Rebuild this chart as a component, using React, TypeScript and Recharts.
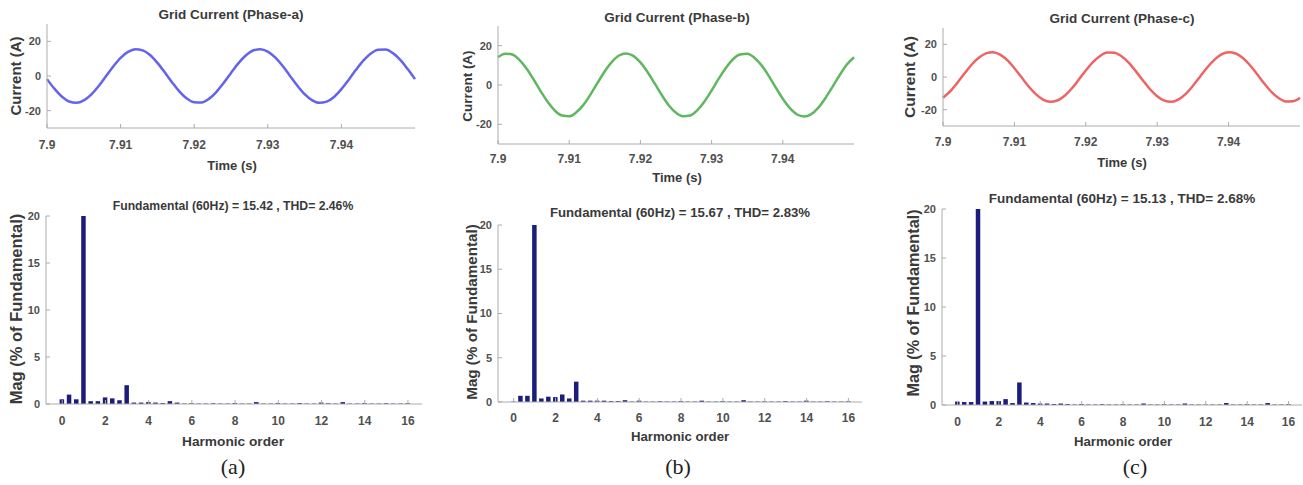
import React from 'react';
import { LineChart, Line, BarChart, Bar, XAxis, YAxis } from 'recharts';

// ---------- data: grid current waveforms (A) ----------
const timeSeconds = [
  7.900, 7.901, 7.902, 7.903, 7.904, 7.905, 7.906, 7.907, 7.908, 7.909,
  7.910, 7.911, 7.912, 7.913, 7.914, 7.915, 7.916, 7.917, 7.918, 7.919,
  7.920, 7.921, 7.922, 7.923, 7.924, 7.925, 7.926, 7.927, 7.928, 7.929,
  7.930, 7.931, 7.932, 7.933, 7.934, 7.935, 7.936, 7.937, 7.938, 7.939,
  7.940, 7.941, 7.942, 7.943, 7.944, 7.945, 7.946, 7.947, 7.948, 7.949,
  7.950,
];
const phaseACurrent = [
  -1.8, -7.3, -11.8, -14.7, -15.5, -14.1, -10.7, -5.9, -0.2, 5.5,
  10.5, 13.9, 15.5, 14.8, 12.1, 7.6, 2.1, -3.7, -9.0, -13.0,
  -15.2, -15.3, -13.2, -9.3, -4.0, 1.8, 7.3, 11.8, 14.7, 15.5,
  14.1, 10.7, 5.9, 0.2, -5.5, -10.5, -13.9, -15.5, -14.8, -12.1,
  -7.6, -2.1, 3.7, 9.0, 13.0, 15.2, 15.3, 13.2, 9.3, 4.0,
  -1.8,
];
const phaseBCurrent = [
  14.1, 15.9, 15.5, 12.8, 8.4, 2.8, -3.2, -8.7, -13.1, -15.5,
  -15.9, -13.9, -10.1, -4.8, 1.2, 7.0, 11.8, 15.0, 16.0, 14.8,
  11.5, 6.6, 0.8, -5.1, -10.4, -14.1, -15.9, -15.5, -12.8, -8.4,
  -2.8, 3.2, 8.7, 13.1, 15.5, 15.9, 13.9, 10.1, 4.8, -1.2,
  -7.0, -11.8, -15.0, -16.0, -14.8, -11.5, -6.6, -0.8, 5.1, 10.4,
  14.1,
];
const phaseCCurrent = [
  -12.7, -8.8, -3.6, 2.1, 7.5, 11.8, 14.5, 15.2, 13.7, 10.3,
  5.4, -0.2, -5.8, -10.5, -13.8, -15.2, -14.4, -11.6, -7.2, -1.7,
  4.0, 9.1, 12.9, 15.0, 14.9, 12.7, 8.8, 3.6, -2.1, -7.5,
  -11.8, -14.5, -15.2, -13.7, -10.3, -5.4, 0.2, 5.8, 10.5, 13.8,
  15.2, 14.4, 11.6, 7.2, 1.7, -4.0, -9.1, -12.9, -15.0, -14.9,
  -12.7,
];
const timeTicks = [7.9, 7.91, 7.92, 7.93, 7.94];
const currentTicks = [-20, 0, 20];

// ---------- data: harmonic spectra (% of fundamental) ----------
const harmonicOrders = [
  0, 0.333, 0.667, 1, 1.333, 1.667, 2, 2.333, 2.667, 3,
  3.333, 3.667, 4, 4.333, 4.667, 5, 5.333, 5.667, 6, 6.333,
  6.667, 7, 7.333, 7.667, 8, 8.333, 8.667, 9, 9.333, 9.667,
  10, 10.333, 10.667, 11, 11.333, 11.667, 12, 12.333, 12.667, 13,
  13.333, 13.667, 14, 14.333, 14.667, 15, 15.333, 15.667, 16,
];
const phaseAMag = [
  0.5, 1.0, 0.5, 100, 0.3, 0.3, 0.7, 0.6, 0.4, 2.0,
  0.15, 0.15, 0.2, 0.15, 0.1, 0.3, 0.15, 0.05, 0.08, 0.05,
  0.05, 0.08, 0.05, 0.05, 0.1, 0.05, 0.05, 0.2, 0.05, 0.05,
  0.1, 0.05, 0.05, 0.1, 0.05, 0.05, 0.15, 0.08, 0.05, 0.2,
  0.05, 0.05, 0.1, 0.05, 0.05, 0.08, 0.05, 0.05, 0.08,
];
const phaseBMag = [
  0.05, 0.7, 0.7, 100, 0.4, 0.6, 0.55, 0.85, 0.4, 2.3,
  0.15, 0.15, 0.15, 0.15, 0.1, 0.1, 0.2, 0.05, 0.15, 0.05,
  0.05, 0.08, 0.05, 0.05, 0.1, 0.05, 0.05, 0.15, 0.05, 0.05,
  0.1, 0.05, 0.05, 0.2, 0.05, 0.05, 0.08, 0.05, 0.05, 0.1,
  0.05, 0.05, 0.15, 0.05, 0.05, 0.08, 0.05, 0.05, 0.08,
];
const phaseCMag = [
  0.35, 0.3, 0.3, 100, 0.35, 0.4, 0.4, 0.6, 0.2, 2.3,
  0.25, 0.2, 0.15, 0.15, 0.1, 0.15, 0.1, 0.05, 0.1, 0.05,
  0.05, 0.08, 0.05, 0.05, 0.08, 0.05, 0.05, 0.15, 0.05, 0.05,
  0.08, 0.05, 0.05, 0.15, 0.05, 0.05, 0.05, 0.05, 0.05, 0.2,
  0.05, 0.05, 0.08, 0.05, 0.05, 0.2, 0.05, 0.05, 0.08,
];
const harmonicTicks = [0, 2, 4, 6, 8, 10, 12, 14, 16];
const magTicks = [0, 5, 10, 15, 20];

// ---------- styling ----------
const SANS = '"Liberation Sans", Arial, Helvetica, sans-serif';
const SERIF = '"Liberation Serif", "Times New Roman", serif';
const BOX = '#acacac';
const X_TICK = { fontSize: 12, fill: '#505050', fontWeight: 700, fontFamily: SANS };
const Y_TICK = { fontSize: 11, fill: '#505050', fontWeight: 700, fontFamily: SANS };

type Box = { l: number; t: number; r: number; b: number };

const YW = 40;
const XH = 34;
const MT = 12;
const MR = 4;

function Frame({ box, children }: { box: Box; children: React.ReactNode }) {
  return (
    <div style={{ position: 'absolute', left: box.l - YW, top: box.t - MT }}>{children}</div>
  );
}

function WavePanel({ box, values, color, xMargin }: { box: Box; values: number[]; color: string; xMargin: number }) {
  const data = timeSeconds.map((t, i) => ({ t, v: values[i] }));
  const width = box.r - box.l + YW + MR;
  const height = box.b - box.t + MT + XH;
  const fmt = (v: number) => String(Number(v.toFixed(2)));
  return (
    <Frame box={box}>
      <LineChart width={width} height={height} data={data} margin={{ top: MT, right: MR, left: 0, bottom: 0 }}>
        <XAxis dataKey="t" type="number" domain={[7.9, 7.95]} ticks={timeTicks} interval={0}
          tickFormatter={fmt} height={XH} stroke={BOX} tickSize={-4} tickMargin={xMargin} tick={X_TICK} />
        <XAxis xAxisId="top" orientation="top" type="number" domain={[7.9, 7.95]} ticks={timeTicks}
          height={0} stroke={BOX} tickSize={-4} tick={false} />
        <YAxis type="number" domain={[-30, 30]} ticks={currentTicks} interval={0} width={YW}
          stroke={BOX} tickSize={-4} tickMargin={10} tick={Y_TICK} />
        <YAxis yAxisId="right" orientation="right" type="number" domain={[-30, 30]} ticks={currentTicks}
          width={0} stroke={BOX} tickSize={-4} tick={false} />
        <Line dataKey="v" type="monotone" stroke={color} strokeWidth={2.5} dot={false} activeDot={false}
          isAnimationActive={false} />
      </LineChart>
    </Frame>
  );
}

function SpectrumPanel({ box, values, xMargin }: { box: Box; values: number[]; xMargin: number }) {
  const data = harmonicOrders.map((h, i) => ({ h, v: values[i] }));
  const width = box.r - box.l + YW + MR;
  const height = box.b - box.t + MT + XH;
  return (
    <Frame box={box}>
      <BarChart width={width} height={height} data={data} margin={{ top: MT, right: MR, left: 0, bottom: 0 }}>
        <XAxis dataKey="h" type="number" domain={[-0.75, 16.65]} ticks={harmonicTicks} interval={0}
          allowDataOverflow height={XH} stroke={BOX} tickSize={-4} tickMargin={xMargin} tick={X_TICK} />
        <XAxis xAxisId="top" orientation="top" type="number" domain={[-0.75, 16.65]} ticks={harmonicTicks}
          allowDataOverflow height={0} stroke={BOX} tickSize={-4} tick={false} />
        <YAxis type="number" domain={[0, 20]} ticks={magTicks} interval={0} allowDataOverflow width={YW}
          stroke={BOX} tickSize={-4} tickMargin={10} tick={Y_TICK} />
        <YAxis yAxisId="right" orientation="right" type="number" domain={[0, 20]} ticks={magTicks}
          allowDataOverflow width={0} stroke={BOX} tickSize={-4} tick={false} />
        <Bar dataKey="v" fill="#1c1c7c" barSize={4.5} isAnimationActive={false} />
      </BarChart>
    </Frame>
  );
}

type TextSpec = { text: string; x: number; y: number; size: number; rotate?: boolean; serif?: boolean; color?: string };

function Txt({ s }: { s: TextSpec }) {
  return (
    <div
      style={{
        position: 'absolute',
        left: s.x,
        top: s.y,
        transform: `translate(-50%, -50%)${s.rotate ? ' rotate(-90deg)' : ''}`,
        whiteSpace: 'nowrap',
        fontFamily: s.serif ? SERIF : SANS,
        fontWeight: s.serif ? 400 : 700,
        fontSize: s.size,
        lineHeight: 1,
        color: s.color || '#3a3a3a',
      }}
    >
      {s.text}
    </div>
  );
}

const labels: TextSpec[] = [
  { text: 'Grid Current (Phase-a)', x: 231, y: 15, size: 13.5 },
  { text: 'Grid Current (Phase-b)', x: 677, y: 17.5, size: 13.5 },
  { text: 'Grid Current (Phase-c)', x: 1122, y: 19, size: 13.5 },
  { text: 'Time (s)', x: 232, y: 165, size: 13 },
  { text: 'Time (s)', x: 677, y: 177, size: 13 },
  { text: 'Time (s)', x: 1122, y: 162, size: 13 },
  { text: 'Current (A)', x: 15, y: 76, size: 15, rotate: true },
  { text: 'Current (A)', x: 468, y: 86, size: 13.5, rotate: true },
  { text: 'Current (A)', x: 910, y: 77, size: 15.5, rotate: true },
  { text: 'Fundamental (60Hz) = 15.42 , THD= 2.46%', x: 233, y: 206, size: 12.2 },
  { text: 'Fundamental (60Hz) = 15.67 , THD= 2.83%', x: 680, y: 213, size: 13.2 },
  { text: 'Fundamental (60Hz) = 15.13 , THD= 2.68%', x: 1122, y: 199, size: 13.5 },
  { text: 'Mag (% of Fundamental)', x: 16, y: 309, size: 16.5, rotate: true },
  { text: 'Mag (% of Fundamental)', x: 472, y: 312, size: 15.2, rotate: true },
  { text: 'Mag (% of Fundamental)', x: 913, y: 303, size: 16.2, rotate: true },
  { text: 'Harmonic order', x: 233, y: 442, size: 13.7 },
  { text: 'Harmonic order', x: 680, y: 437, size: 13.2 },
  { text: 'Harmonic order', x: 1123, y: 442, size: 13.2 },
  { text: '(a)', x: 233, y: 467, size: 22, serif: true, color: '#222' },
  { text: '(b)', x: 678, y: 467, size: 22, serif: true, color: '#222' },
  { text: '(c)', x: 1135, y: 467, size: 22, serif: true, color: '#222' },
];

export default function App() {
  return (
    <div style={{ position: 'absolute', left: 0, top: 0, width: 1303, height: 485, background: '#fff', overflow: 'hidden' }}>
      <WavePanel box={{ l: 47, t: 24, r: 415, b: 128 }} values={phaseACurrent} color="#6363ee" xMargin={16} />
      <WavePanel box={{ l: 498, t: 26, r: 854, b: 144 }} values={phaseBCurrent} color="#5fb85f" xMargin={14} />
      <WavePanel box={{ l: 943, t: 28, r: 1300, b: 126 }} values={phaseCCurrent} color="#ee6363" xMargin={15.5} />
      <SpectrumPanel box={{ l: 46, t: 216, r: 422, b: 404 }} values={phaseAMag} xMargin={16} />
      <SpectrumPanel box={{ l: 498, t: 225, r: 862, b: 402 }} values={phaseBMag} xMargin={15} />
      <SpectrumPanel box={{ l: 942, t: 209, r: 1302, b: 405 }} values={phaseCMag} xMargin={16} />
      {labels.map((s, i) => (
        <Txt key={i} s={s} />
      ))}
    </div>
  );
}
